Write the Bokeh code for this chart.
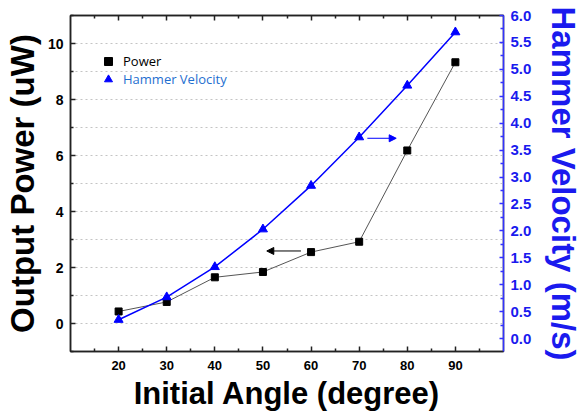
from bokeh.plotting import figure
from bokeh.models import (Range1d, LinearAxis, FixedTicker, Legend, LegendItem,
                          Arrow, NormalHead, PrintfTickFormatter, CustomJSTickFormatter)
from bokeh.embed import file_html
from bokeh.resources import INLINE

# ---- data ----
angle = [20, 30, 40, 50, 60, 70, 80, 90]
power = [0.43, 0.77, 1.65, 1.84, 2.55, 2.92, 6.18, 9.33]
velocity = [0.35, 0.77, 1.33, 2.03, 2.84, 3.74, 4.70, 5.69]

x_ticks = [20, 30, 40, 50, 60, 70, 80, 90]
x_minor = [15, 25, 35, 45, 55, 65, 75, 85, 95]
power_ticks = [0, 2, 4, 6, 8, 10]
power_minor = [-1, 1, 3, 5, 7, 9, 11]
grid_levels = [0, 1, 2, 3, 4, 5, 6, 7, 8, 9, 10]
vel_ticks = [0.0, 0.5, 1.0, 1.5, 2.0, 2.5, 3.0, 3.5, 4.0, 4.5, 5.0, 5.5, 6.0]
vel_minor = [0.25, 0.75, 1.25, 1.75, 2.25, 2.75, 3.25, 3.75, 4.25, 4.75, 5.25, 5.75]

x_title = "Initial Angle (degree)"
left_title = "Output Power (uW)"
right_title = "Hammer Velocity (m/s)"

# arrows indicating which axis each curve belongs to
power_arrow = dict(x_start=57.9, x_end=50.8, y=2.59)
vel_arrow = dict(x_start=71.7, x_end=77.7, y=3.72)

BLUE = "#0000ff"
AXBLUE = "#1a1aee"
FONT = "Liberation Sans"

p = figure(width=586, height=414, x_range=Range1d(10, 100), y_range=Range1d(-1, 11),
           output_backend="svg", toolbar_location=None,
           min_border_left=70, min_border_right=83, min_border_top=15, min_border_bottom=63)
p.extra_y_ranges = {"v": Range1d(-0.24, 6.0)}
p.outline_line_color = "#222222"
p.outline_line_width = 1.5
p.background_fill_color = "white"
p.border_fill_color = "white"

# grid
p.xgrid.visible = False
p.ygrid.ticker = FixedTicker(ticks=grid_levels)
p.ygrid.grid_line_color = "#c4c4c4"
p.ygrid.grid_line_dash = "2 3"
p.ygrid.grid_line_width = 1

def style_axis(ax, color="#222222", label_color="black", size="14px"):
    ax.axis_line_color = color
    ax.axis_line_width = 1.5
    ax.major_tick_line_color = color
    ax.minor_tick_line_color = color
    ax.major_tick_line_width = 1.5
    ax.minor_tick_line_width = 1.5
    ax.major_tick_in = 5
    ax.major_tick_out = 0
    ax.minor_tick_in = 3
    ax.minor_tick_out = 0
    ax.major_label_text_font = FONT
    ax.major_label_text_font_style = "bold"
    ax.major_label_text_font_size = size
    ax.major_label_text_color = label_color
    ax.axis_label_text_font = FONT
    ax.axis_label_text_font_style = "bold"

# bottom axis
xa = p.xaxis[0]
xa.ticker = FixedTicker(ticks=x_ticks, minor_ticks=x_minor)
style_axis(xa, size="13px")
xa.major_label_standoff = 9
xa.axis_label = x_title
xa.axis_label_text_font_size = "31px"
xa.axis_label_standoff = 3
xa.axis_label_text_color = "black"

# left axis
ya = p.yaxis[0]
ya.ticker = FixedTicker(ticks=power_ticks, minor_ticks=power_minor)
style_axis(ya, size="14px")
ya.major_label_standoff = 7
ya.axis_label = left_title
ya.axis_label_text_font_size = "33px"
ya.axis_label_standoff = 4
ya.axis_label_text_color = "black"

# top axis (ticks only, no labels)
top = LinearAxis(ticker=FixedTicker(ticks=x_ticks, minor_ticks=x_minor),
                 formatter=CustomJSTickFormatter(code="return ''"))
style_axis(top)
top.major_label_standoff = 0
p.add_layout(top, "above")

# right axis
ra = LinearAxis(y_range_name="v", ticker=FixedTicker(ticks=vel_ticks, minor_ticks=vel_minor),
                formatter=PrintfTickFormatter(format="%.1f"))
style_axis(ra, color="#3333ff", label_color=AXBLUE, size="15px")
ra.major_tick_in = 4
ra.major_label_standoff = 7
ra.axis_label = right_title
ra.axis_label_text_font_size = "33px"
ra.axis_label_standoff = 11
ra.axis_label_text_color = AXBLUE
p.add_layout(ra, "right")

# series
p.line(angle, power, line_color="#555555", line_width=1)
sq = p.scatter(angle, power, marker="square", size=7, fill_color="black", line_color="black")
p.line(angle, velocity, line_color=BLUE, line_width=1.5, y_range_name="v")
tri = p.scatter(angle, velocity, marker="triangle", size=9, fill_color=BLUE, line_color=BLUE,
                y_range_name="v")

# arrows
p.add_layout(Arrow(end=NormalHead(size=7, fill_color="black", line_color="black"),
                   x_start=power_arrow["x_start"], y_start=power_arrow["y"],
                   x_end=power_arrow["x_end"], y_end=power_arrow["y"],
                   line_color="black", line_width=1))
p.add_layout(Arrow(end=NormalHead(size=7, fill_color=BLUE, line_color=BLUE),
                   x_start=vel_arrow["x_start"], y_start=vel_arrow["y"],
                   x_end=vel_arrow["x_end"], y_end=vel_arrow["y"],
                   line_color=BLUE, line_width=1, y_range_name="v"))

def make_legend(label, rend, color, loc):
    lg = Legend(items=[LegendItem(label=label, renderers=[rend])], location=loc,
                background_fill_alpha=0, border_line_alpha=0, padding=0, margin=0,
                glyph_width=20, glyph_height=20, label_standoff=5,
                label_text_font="Open Sans", label_text_font_size="13px",
                label_text_color=color)
    p.add_layout(lg, "center")

make_legend("Power", sq, "black", (28, 280))
make_legend("Hammer Velocity", tri, "#1f6fd0", (28, 262))

open("out.html", "w").write(file_html(p, INLINE))
